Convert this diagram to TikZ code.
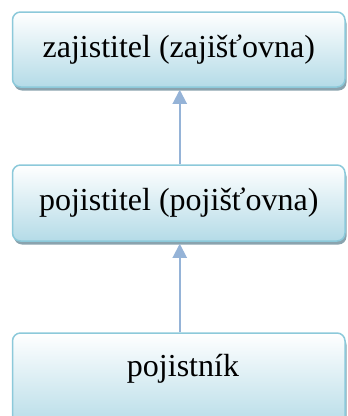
\documentclass[tikz,border=0pt]{standalone}
\usepackage{fontspec}
\setmainfont{Liberation Serif}
\usetikzlibrary{arrows.meta,shadows}

\definecolor{boxedge}{RGB}{140,201,218}
\definecolor{boxfill}{RGB}{180,219,231}
\definecolor{boxshadow}{RGB}{138,163,174}
\definecolor{linkcol}{RGB}{149,179,215}

\tikzset{
  level/.style={
    rectangle, rounded corners=8pt, draw=boxedge, line width=1.5pt,
    top color=white, bottom color=boxfill,
    minimum width=332.5pt, inner sep=0pt,
    font=\fontsize{32}{38}\selectfont,
    drop shadow={shadow xshift=1.5pt, shadow yshift=-3.5pt,
                 fill=boxshadow, opacity=1}
  },
  caption/.style={inner sep=0pt, font=\fontsize{32}{38}\selectfont},
  link/.style={draw=linkcol, line width=2pt,
    -{Triangle[width=14pt,length=14pt]}}
}

\begin{document}
\begin{tikzpicture}[x=1pt,y=-1pt]
  \useasboundingbox (0,0) rectangle (348,416);
  \clip (0,0) rectangle (348,416);

  % three levels of the insurance chain
  \node[level, minimum height=75pt] (top) at (178.75,49.5) {zajistitel (zajišťovna)};
  \node[level, minimum height=76pt] (mid) at (178.75,203) {pojistitel (pojišťovna)};
  \node[level, minimum height=97pt] (bot) at (178.75,381.5) {};
  \node[caption, anchor=base] (botlabel) at (183,376) {pojistník};

  % upward links
  \draw[link] ([xshift=1pt]bot.north) -- ([xshift=1pt,yshift=-2pt]mid.south);
  \draw[link] ([xshift=1pt]mid.north) -- ([xshift=1pt,yshift=-2pt]top.south);
\end{tikzpicture}
\end{document}
